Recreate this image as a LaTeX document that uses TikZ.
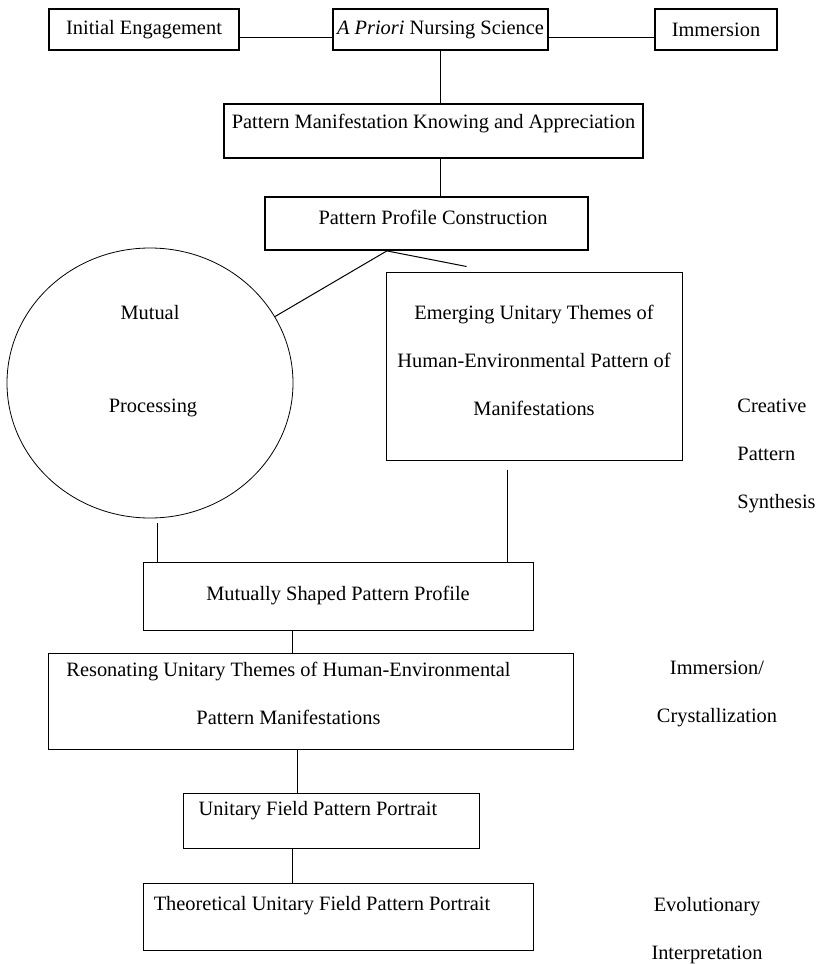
\documentclass[tikz,border=0pt]{standalone}
\usepackage{fontspec}
\setmainfont{Liberation Serif}
\usetikzlibrary{calc,shapes.geometric}

\begin{document}
\begin{tikzpicture}[x=0.5pt,y=-0.5pt,
lab/.style={font=\fontsize{10.2pt}{24pt}\selectfont,inner sep=0pt,align=center},
bx/.style={rectangle,draw=black,line width=0.5pt,inner sep=0pt},
tbx/.style={bx,line width=0.9pt},
ln/.style={draw=black,line width=0.5pt}]
	\useasboundingbox (0,0) rectangle (817,964);
	%top row
	\node[tbx,lab,minimum width=95pt,minimum height=20.5pt] at (144,29.5) (ie) {Initial Engagement};
	\node[tbx,lab,minimum width=107.5pt,minimum height=20.5pt] at (440.5,29.5) (ap) {\textit{A Priori} Nursing Science};
	\node[tbx,lab,minimum width=61pt,minimum height=20.5pt] at (716,29.5) (imm) {Immersion};
	%knowing and profile
	\node[tbx,minimum width=209.5pt,minimum height=27pt] at (433.5,131) (pmka) {};
	\node[lab] at ([yshift=-10pt]pmka.north) (pmka-t) {Pattern Manifestation Knowing and Appreciation};
	\node[tbx,minimum width=161.5pt,minimum height=26.5pt] at (426.5,223.5) (ppc) {};
	\node[lab] at ([xshift=3.25pt,yshift=-10.5pt]ppc.north) (ppc-t) {Pattern Profile Construction};
	%mutual processing
	\node[ellipse,draw=black,line width=0.4pt,inner sep=0pt,minimum width=143pt,minimum height=135pt] at (150,383) (mp) {};
	\node[lab] at ([yshift=35pt]mp.center) (mp-t1) {Mutual};
	\node[lab] at ([xshift=1.5pt,yshift=-12.5pt]mp.center) (mp-t2) {Processing};
	\node[bx,minimum width=148pt,minimum height=94pt] at (534,366) (eut) {};
	\node[lab] at ([yshift=2.75pt]eut.center) (eut-t) {Emerging Unitary Themes of\\Human-Environmental Pattern of\\Manifestations};
	%lower chain
	\node[bx,lab,minimum width=195pt,minimum height=34pt] at (338,596) (mspp) {Mutually Shaped Pattern Profile};
	\node[bx,minimum width=262.5pt,minimum height=48pt] at (310.5,701) (rut) {};
	\node[lab] at ([xshift=-11pt,yshift=4pt]rut.center) (rut-t) {Resonating Unitary Themes of Human-Environmental\\Pattern Manifestations};
	\node[bx,minimum width=148pt,minimum height=27.5pt] at (331,820.5) (ufpp) {};
	\node[lab] at ([xshift=-6.5pt,yshift=4.75pt]ufpp.center) (ufpp-t) {Unitary Field Pattern Portrait};
	\node[bx,minimum width=195pt,minimum height=33.5pt] at (338,916.5) (tufpp) {};
	\node[lab] at ([xshift=-8pt,yshift=5.25pt]tufpp.center) (tufpp-t) {Theoretical Unitary Field Pattern Portrait};
	%phases
	\node[lab,align=left,anchor=west] at (737,455.5) (cps) {Creative\\Pattern\\Synthesis};
	\node[lab] at (717,694) (ic) {Immersion/\\Crystallization};
	\node[lab] at (707,931) (ei) {Evolutionary\\Interpretation};
	%connectors
	\draw[ln] ([yshift=-3.75pt]ie.east) -- ([yshift=-3.75pt]ap.west);
	\draw[ln] ([yshift=-3.75pt]ap.east) -- ([yshift=-3.75pt]imm.west);
	\draw[ln] (ap.south) -- (ap.south |- pmka.north);
	\draw[ln] (ap.south |- pmka.south) -- (ap.south |- ppc.north);
	\coordinate (apex) at ($(ppc.south west)!0.378!(ppc.south east)$);
	\coordinate (eut-gap) at ($(eut.north west)+(81,-5)$);
	\draw[ln] (apex) -- (mp.28);
	\draw[ln] (apex) -- (eut-gap);
	\coordinate (mp-b) at ([xshift=3.5pt,yshift=-2.5pt]mp.south);
	\draw[ln] (mp-b) -- (mp-b |- mspp.north);
	\coordinate (eut-b) at ([xshift=-13.5pt,yshift=-4.5pt]eut.south);
	\draw[ln] (eut-b) -- (eut-b |- mspp.north);
	\coordinate (ms-b) at ([xshift=-23pt]mspp.south);
	\draw[ln] (ms-b) -- (ms-b |- rut.north);
	\coordinate (ru-b) at ([xshift=-6.75pt]rut.south);
	\draw[ln] (ru-b) -- (ru-b |- ufpp.north);
	\coordinate (uf-b) at ([xshift=-19.5pt]ufpp.south);
	\draw[ln] (uf-b) -- (uf-b |- tufpp.north);
\end{tikzpicture}
\end{document}
